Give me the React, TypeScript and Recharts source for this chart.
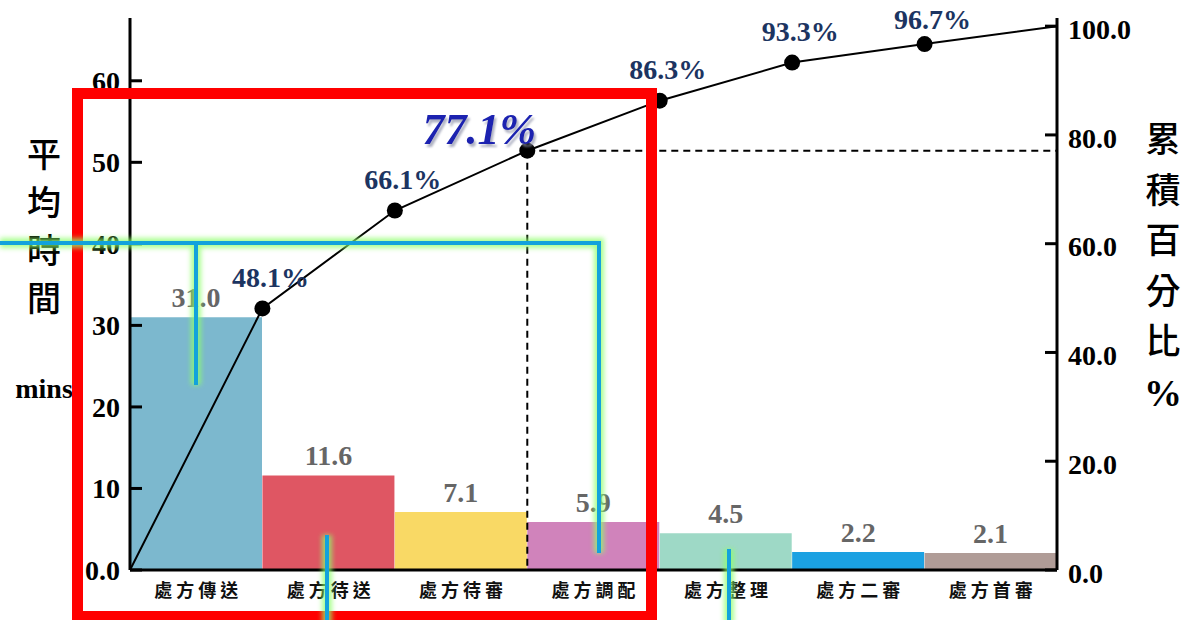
import React from "react";
import {
  ComposedChart,
  Bar,
  Line,
  XAxis,
  YAxis,
  Cell,
  LabelList,
  ReferenceLine,
} from "recharts";

// ---- data ----
const categories = ["處方傳送", "處方待送", "處方待審", "處方調配", "處方整理", "處方二審", "處方首審"];
const avgMinutes = [31.0, 11.6, 7.1, 5.9, 4.5, 2.2, 2.1];
const barColors = ["#7cb8ce", "#df5663", "#f9d965", "#d083bb", "#9ed9c6", "#1ba1e2", "#b09c97"];
const cumulativePct = [0, 48.1, 66.1, 77.1, 86.3, 93.3, 96.7, 100.0];
const leftTicks = [0, 10, 20, 30, 40, 50, 60];
const rightTicks = [0, 20, 40, 60, 80, 100];
const highlightIndex = 3;
const leftTitle = ["平", "均", "時", "間"];
const leftUnit = "mins";
const rightTitle = ["累", "積", "百", "分", "比", "%"];

const barData = categories.map((name, i) => ({ name, value: avgMinutes[i] }));
const lineData = cumulativePct.map((pct, i) => ({ pos: i, pct }));

const SERIF = '"Liberation Serif", "Times New Roman", serif';
const CJK = '"Noto Sans CJK TC", "Noto Sans CJK SC", sans-serif';

const LeftTick = (props: any) => {
  const { x, y, payload } = props;
  const ax = x + 8;
  const v = Number(payload.value);
  return (
    <g>
      <line x1={ax} x2={ax + 12} y1={y} y2={y} stroke="#000" strokeWidth={3} />
      <text
        x={x - 2}
        y={y}
        dy="0.35em"
        textAnchor="end"
        fontFamily={SERIF}
        fontWeight="bold"
        fontSize={28}
        fill="#000"
      >
        {v === 0 ? "0.0" : String(v)}
      </text>
    </g>
  );
};

const RightTick = (props: any) => {
  const { x, y, payload } = props;
  const ax = x - 11;
  const v = Number(payload.value);
  return (
    <g>
      <line x1={ax} x2={ax - 12} y1={y} y2={y} stroke="#000" strokeWidth={3} />
      <text
        x={x}
        y={y + 3}
        dy="0.35em"
        textAnchor="start"
        fontFamily={SERIF}
        fontWeight="bold"
        fontSize={28}
        fill="#000"
      >
        {v.toFixed(1)}
      </text>
    </g>
  );
};

const CatTick = (props: any) => {
  const { x, y, payload } = props;
  return (
    <text
      x={x + 2}
      y={y + 21}
      dy="0.35em"
      textAnchor="middle"
      fontFamily={CJK}
      fontWeight={700}
      fontSize={18}
      letterSpacing={4}
      fill="#111"
    >
      {payload.value}
    </text>
  );
};

const renderDot = (props: any) => {
  const { cx, cy, index } = props;
  if (index === 0 || index === cumulativePct.length - 1) return <g key={"d" + index} />;
  return <circle key={"d" + index} cx={cx} cy={cy} r={8} fill="#000" />;
};

const PctLabel = (props: any) => {
  const { x, y, value, index } = props;
  const v = Number(value);
  if (v === 0 || v === 100) return null;
  const isHi = index === highlightIndex || v === cumulativePct[highlightIndex];
  const txt = v.toFixed(1) + "%";
  if (isHi) {
    return (
      <text
        x={x - 48}
        y={y - 22}
        dy="0.35em"
        textAnchor="middle"
        fontFamily={SERIF}
        fontWeight="bold"
        fontStyle="italic"
        fontSize={44}
        fill="#1a22b0"
        filter="url(#hiShadow)"
      >
        {txt}
      </text>
    );
  }
  return (
    <text
      x={x + 8}
      y={Math.max(y - 31, 19)}
      dy="0.35em"
      textAnchor="middle"
      fontFamily={SERIF}
      fontWeight="bold"
      fontSize={28}
      fill="#1c3461"
    >
      {txt}
    </text>
  );
};

const BarLabel = (props: any) => {
  const { x, y, width, value } = props;
  return (
    <text
      x={x + width / 2}
      y={y - 10}
      textAnchor="middle"
      fontFamily={SERIF}
      fontWeight="bold"
      fontSize={28}
      fill="#666"
    >
      {Number(value).toFixed(1)}
    </text>
  );
};

export default function App() {
  return (
    <div style={{ position: "relative", width: 1189, height: 620, background: "#fff" }}>
      <style>{"body{margin:0;background:#fff;}"}</style>
      <svg width={0} height={0} style={{ position: "absolute" }}>
        <defs>
          <filter id="hiShadow" x="-20%" y="-30%" width="140%" height="170%">
            <feDropShadow dx="2" dy="3" stdDeviation="1.2" floodColor="#8c90a8" floodOpacity="0.7" />
          </filter>
        </defs>
      </svg>
      <ComposedChart
        width={1189}
        height={620}
        data={barData}
        margin={{ top: 18, right: 0, bottom: 0, left: 0 }}
        barCategoryGap={0}
        barGap={0}
      >
        <XAxis
          xAxisId="cat"
          dataKey="name"
          type="category"
          interval={0}
          height={50}
          tickLine={false}
          tickSize={0}
          tickMargin={0}
          axisLine={{ stroke: "#000", strokeWidth: 3 }}
          tick={<CatTick />}
        />
        <XAxis
          xAxisId="num"
          dataKey="pos"
          type="number"
          domain={[0, categories.length]}
          allowDataOverflow
          hide
        />
        <YAxis
          yAxisId="left"
          orientation="left"
          width={130}
          domain={[0, 67.7]}
          ticks={leftTicks}
          allowDataOverflow
          tickLine={false}
          tickSize={0}
          tickMargin={8}
          axisLine={{ stroke: "#000", strokeWidth: 3 }}
          tick={<LeftTick />}
        />
        <YAxis
          yAxisId="right"
          orientation="right"
          width={132}
          domain={[0, 101.5]}
          ticks={rightTicks}
          allowDataOverflow
          tickLine={false}
          tickSize={0}
          tickMargin={11}
          axisLine={{ stroke: "#000", strokeWidth: 3 }}
          tick={<RightTick />}
        />
        <Bar
          xAxisId="cat"
          yAxisId="left"
          dataKey="value"
          isAnimationActive={false}
        >
          {barData.map((d, i) => (
            <Cell key={d.name} fill={barColors[i]} />
          ))}
          <LabelList dataKey="value" content={<BarLabel />} />
        </Bar>
        <ReferenceLine
          xAxisId="num"
          yAxisId="right"
          segment={[
            { x: highlightIndex, y: cumulativePct[highlightIndex] },
            { x: highlightIndex, y: 0 },
          ]}
          stroke="#000"
          strokeWidth={2}
          strokeDasharray="7 5"
        />
        <ReferenceLine
          xAxisId="num"
          yAxisId="right"
          segment={[
            { x: highlightIndex, y: cumulativePct[highlightIndex] },
            { x: categories.length, y: cumulativePct[highlightIndex] },
          ]}
          stroke="#000"
          strokeWidth={2}
          strokeDasharray="7 5"
        />
        <Line
          data={lineData}
          xAxisId="num"
          yAxisId="right"
          dataKey="pct"
          type="linear"
          stroke="#000"
          strokeWidth={2}
          dot={renderDot}
          activeDot={false}
          isAnimationActive={false}
        >
          <LabelList dataKey="pct" content={<PctLabel />} />
        </Line>
      </ComposedChart>

      <svg
        width={1189}
        height={620}
        style={{ position: "absolute", left: 0, top: 0, pointerEvents: "none" }}
      >
        <defs>
          <filter id="glowBlur" x="-50%" y="-50%" width="200%" height="200%">
            <feGaussianBlur stdDeviation="2.5" />
          </filter>
        </defs>
        {leftTitle.map((ch, i) => (
          <text
            key={"l" + i}
            x={44}
            y={155 + i * 48}
            dy="0.35em"
            textAnchor="middle"
            fontFamily={CJK}
            fontWeight={500}
            fontSize={34}
            fill="#000"
          >
            {ch}
          </text>
        ))}
        <text
          x={44}
          y={388}
          dy="0.35em"
          textAnchor="middle"
          fontFamily={SERIF}
          fontWeight="bold"
          fontSize={28}
          fill="#000"
        >
          {leftUnit}
        </text>
        {rightTitle.map((ch, i) => (
          <text
            key={"r" + i}
            x={1163}
            y={140 + i * 50.5}
            dy="0.35em"
            textAnchor="middle"
            fontFamily={ch === "%" ? SERIF : CJK}
            fontWeight={ch === "%" ? "bold" : 500}
            fontSize={ch === "%" ? 38 : 35}
            fill="#000"
          >
            {ch}
          </text>
        ))}
        <rect x={77.5} y={93.5} width={574} height={523} fill="none" stroke="#ff0000" strokeWidth={11} />
        <g fill="none" strokeLinecap="butt" strokeLinejoin="miter">
          <g stroke="#8dff6a" strokeWidth={10} opacity={0.75} filter="url(#glowBlur)">
            <path d="M0,243 H599 V553" />
            <path d="M196,243 V385" />
            <path d="M327,535 V625" />
            <path d="M729,549 V625" />
          </g>
          <g stroke="#12a2dc" strokeWidth={4}>
            <path d="M0,243 H599 V553" />
            <path d="M196,243 V385" />
            <path d="M327,535 V625" />
            <path d="M729,549 V625" />
          </g>
        </g>
      </svg>
    </div>
  );
}
